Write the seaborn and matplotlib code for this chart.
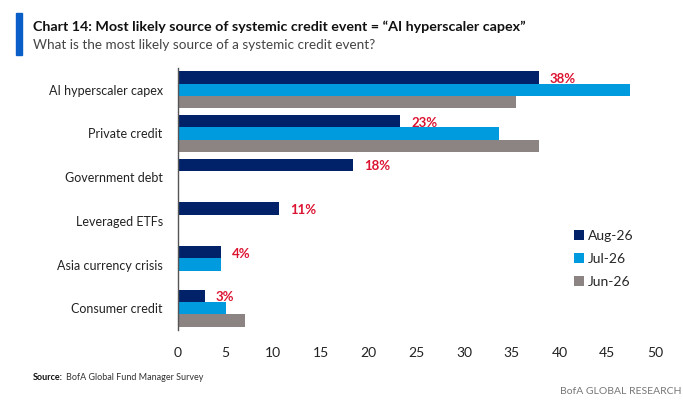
import pandas as pd
import matplotlib.pyplot as plt
import seaborn as sns
from matplotlib.lines import Line2D
from matplotlib.patches import Rectangle

# survey answers (% of respondents)
categories = ['AI hyperscaler capex', 'Private credit', 'Government debt',
              'Leveraged ETFs', 'Asia currency crisis', 'Consumer credit']
aug_26 = [37.8, 23.3, 18.3, 10.6, 4.5, 2.8]
jul_26 = [47.4, 33.6, None, None, 4.5, 5.0]
jun_26 = [35.4, 37.8, None, None, None, 7.0]
aug_labels = ['38%', '23%', '18%', '11%', '4%', '3%']
months = ['Aug-26', 'Jul-26', 'Jun-26']
xticks = [0, 5, 10, 15, 20, 25, 30, 35, 40, 45, 50]

colors = ['#012169', '#009ADE', '#8C8482']
red = '#DC1431'

# long format for seaborn, drop the months with no answer
rows = []
for m, vals in zip(months, [aug_26, jul_26, jun_26]):
    for c, v in zip(categories, vals):
        if v is not None:
            rows.append({'source': c, 'month': m, 'pct': v})
df = pd.DataFrame(rows)

sns.set_theme(style='white')
plt.rcParams['font.family'] = ['Lato', 'DejaVu Sans']

fig = plt.figure(figsize=(6.83, 4.0), dpi=100)
ax = fig.add_axes([178 / 683, 1 - 330 / 400, 477 / 683, 262 / 400])

sns.barplot(data=df, y='source', x='pct', hue='month', order=categories,
            hue_order=months, palette=colors, saturation=1, orient='h',
            width=0.85, errorbar=None, linewidth=0, ax=ax, legend=False)

# red value labels for the latest month, a touch below the bar centre
for bar, lab in zip(ax.containers[0], aug_labels):
    ax.annotate(lab, (bar.get_width(), bar.get_y() + bar.get_height() / 2),
                xytext=(8, -1), textcoords='offset points', va='center',
                color=red, fontsize=9.5, fontweight='bold')

ax.set_xlim(0, 50)
ax.set_ylim(5.5, -0.5)
ax.set_xticks(xticks)
ax.set_xlabel('')
ax.set_ylabel('')
ax.tick_params(axis='x', length=0, pad=12, labelsize=10, colors='#222222')
ax.tick_params(axis='y', length=0, pad=11, labelsize=9, colors='#222222')
for s in ['top', 'right', 'bottom']:
    ax.spines[s].set_visible(False)
ax.spines['left'].set_color('#555555')
ax.spines['left'].set_linewidth(1.0)

handles = [Line2D([], [], marker='s', linestyle='', markersize=7,
                  markerfacecolor=c, markeredgewidth=0) for c in colors]
ax.legend(handles, months, loc='upper left', bbox_to_anchor=(382 / 477, 1 - 149 / 262),
          frameon=False, fontsize=10, handletextpad=0.1, labelspacing=0.8,
          handlelength=1.0)

# header
fig.patches.append(Rectangle((16 / 683, 1 - 55 / 400), 6 / 683, 42 / 400,
                             transform=fig.transFigure, color='#0A5EC8'))
fig.text(33 / 683, 1 - 27 / 400, 'Chart 14: Most likely source of systemic credit event = \u201cAI hyperscaler capex\u201d',
         fontsize=10.3, fontweight='bold', color='#111111', va='center')
fig.text(33 / 683, 1 - 45 / 400, 'What is the most likely source of a systemic credit event?',
         fontsize=9.75, color='#444444', va='center')

# footer
src = fig.text(33 / 683, 1 - 377 / 400, 'Source:', fontsize=6.5, fontweight='bold',
               color='#111111', va='center')
fig.canvas.draw()
bb = src.get_window_extent()
fig.text((bb.x1 + 3) / 683, 1 - 377 / 400, 'BofA Global Fund Manager Survey', fontsize=6.5,
         color='#333333', va='center')
fig.text(681 / 683, 1 - 391 / 400, 'BofA GLOBAL RESEARCH', fontsize=7.5,
         color='#777777', va='center', ha='right')

fig.savefig('out.png', dpi=100, facecolor='white')
